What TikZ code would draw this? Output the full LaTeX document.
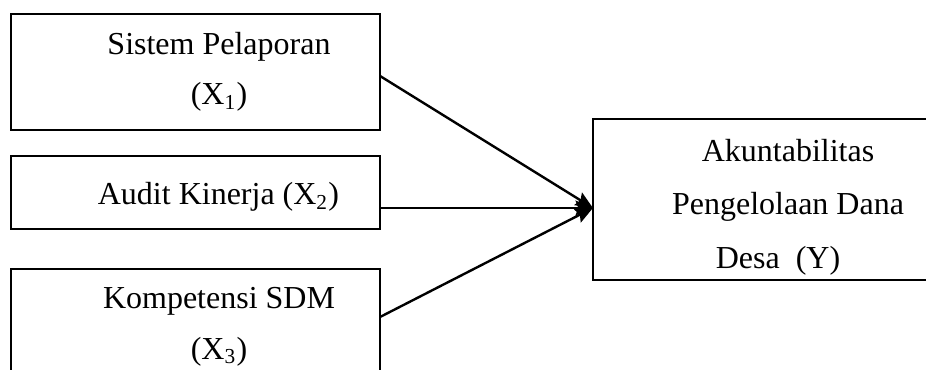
\documentclass[tikz,border=0pt]{standalone}
\usepackage{fontspec}
\setmainfont{Liberation Serif}
\usetikzlibrary{calc,arrows.meta}

\begin{document}
\begin{tikzpicture}[x=0.375pt,y=-0.375pt,inner sep=0pt,outer sep=0pt,
    box/.style={draw,line width=0.75pt,minimum width=138.4pt},
    lbl/.style={align=center,font=\fontsize{12}{19}\selectfont},
    link/.style={line width=0.9pt,-{Stealth[length=6.5pt,width=5.5pt,inset=1pt]}}]
    \useasboundingbox (0,0) rectangle (926,370);
    \clip (0,0) rectangle (926,370);

    % X variables
    \node[box,minimum height=43.5pt] (sistem_lap) at (195.5,72) {};
    \node[lbl,anchor=base] (sistem_lap_txt) at (219,105)
    {Sistem Pelaporan\\(X\textsubscript{1})};

    \node[box,minimum height=27.4pt] (audit_kin) at (195.5,192.5) {};
    \node[lbl,anchor=base] (audit_kin_txt) at (218.5,205)
    {Audit Kinerja (X\textsubscript{2})};

    \node[box,minimum height=43.5pt] (komp_sdm) at (195.5,327) {};
    \node[lbl,anchor=base] (komp_sdm_txt) at (219,359)
    {Kompetensi SDM\\(X\textsubscript{3})};

    % Y variable
    \node[box,minimum width=128.3pt,minimum height=60.4pt] (akun_y) at (764,199.5) {};
    \node[lbl,anchor=base,font=\fontsize{12}{20}\selectfont] (akun_y_txt) at (788,268)
    {Akuntabilitas\\Pengelolaan Dana\\Desa\hspace{6pt}(Y)\hspace*{7.5pt}};

    % arrows
    \coordinate (tip) at ($(akun_y.west)+(0,8.5)$);
    \draw[link] ($(sistem_lap.east)+(0,4)$) -- (tip);
    \draw[link] (audit_kin.east |- tip) -- (tip);
    \draw[link] ($(komp_sdm.east)+(0,-10)$) -- (tip);

\end{tikzpicture}
\end{document}
